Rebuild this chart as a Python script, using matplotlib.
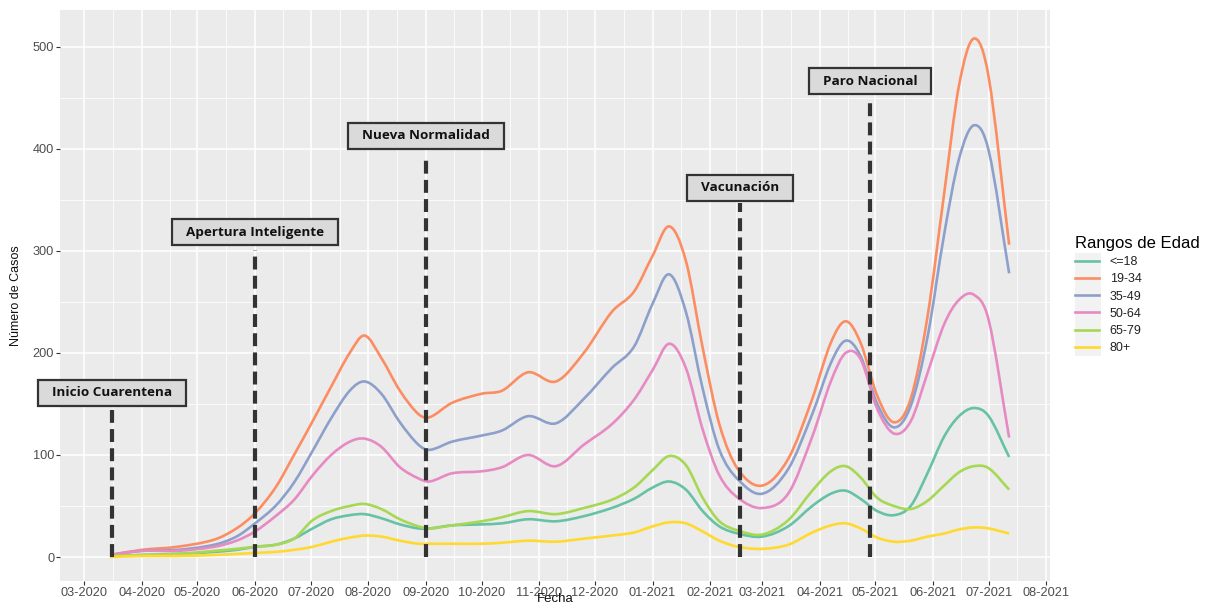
import matplotlib
matplotlib.use("Agg")
import matplotlib.pyplot as plt
import matplotlib.dates as mdates
import matplotlib.transforms as mtransforms
from matplotlib.path import Path
from matplotlib.patches import PathPatch, Rectangle
import pandas as pd
import numpy as np

# ---------------- data ----------------
dates = pd.to_datetime([
    "2020-03-15", "2020-04-01", "2020-04-20", "2020-05-10", "2020-05-22",
    "2020-06-01", "2020-06-12", "2020-06-22", "2020-07-02", "2020-07-12",
    "2020-07-22", "2020-07-30", "2020-08-08", "2020-08-18", "2020-08-28",
    "2020-09-03", "2020-09-15", "2020-10-01", "2020-10-12", "2020-10-26",
    "2020-11-10", "2020-11-25", "2020-12-10", "2020-12-22", "2021-01-01",
    "2021-01-10", "2021-01-19", "2021-01-28", "2021-02-06", "2021-02-16",
    "2021-03-01", "2021-03-15", "2021-03-28", "2021-04-07", "2021-04-15",
    "2021-04-23", "2021-05-02", "2021-05-11", "2021-05-20", "2021-05-29",
    "2021-06-07", "2021-06-15", "2021-06-23", "2021-07-01", "2021-07-12",
])

age_groups = ["<=18", "19-34", "35-49", "50-64", "65-79", "80+"]

cases_le18 = [1, 2, 3, 5, 7, 10, 12, 18, 28, 37, 41, 42, 38, 32, 28,
              28, 31, 32, 33, 37, 35, 40, 48, 57, 68, 74, 66, 45, 30, 23,
              20, 30, 50, 62, 65, 57, 45, 41, 50, 82, 118, 138, 146, 138, 98]
cases_19_34 = [2, 7, 10, 17, 28, 43, 68, 100, 133, 167, 200, 217, 195, 163, 140,
               137, 151, 160, 163, 181, 172, 200, 240, 260, 295, 324, 290, 205, 130, 86,
               70, 96, 155, 210, 231, 210, 158, 132, 155, 235, 356, 462, 508, 470, 306]
cases_35_49 = [2, 6, 7, 12, 20, 33, 50, 73, 104, 136, 163, 172, 160, 132, 110,
               105, 113, 119, 124, 138, 131, 155, 185, 206, 248, 277, 240, 165, 105, 76,
               62, 86, 140, 190, 212, 197, 150, 127, 148, 215, 316, 390, 423, 398, 278]
cases_50_64 = [2, 6, 6, 10, 16, 25, 40, 56, 80, 100, 113, 116, 108, 88, 77,
               74, 82, 84, 88, 100, 89, 110, 130, 154, 183, 209, 185, 125, 80, 58,
               48, 62, 118, 172, 200, 194, 145, 121, 133, 180, 228, 252, 257, 232, 117]
cases_65_79 = [1, 2, 3, 6, 8, 10, 12, 18, 36, 45, 50, 52, 47, 37, 30,
               28, 31, 35, 39, 45, 42, 48, 56, 68, 85, 99, 90, 58, 35, 26,
               22, 36, 65, 84, 89, 78, 58, 50, 47, 55, 70, 83, 89, 87, 66]
cases_80p = [0, 1, 1, 2, 3, 4, 5, 7, 10, 15, 19, 21, 20, 16, 13,
             13, 13, 13, 14, 16, 15, 18, 21, 24, 30, 34, 33, 25, 16, 10,
             8, 12, 24, 31, 33, 28, 19, 15, 16, 20, 23, 27, 29, 28, 23]

event_dates = pd.to_datetime(["2020-03-16", "2020-06-01", "2020-09-01",
                              "2021-02-17", "2021-04-28"])
event_labels = ["Inicio Cuarentena", "Apertura Inteligente", "Nueva Normalidad",
                "Vacunación", "Paro Nacional"]
event_label_y = [161, 318, 413, 362, 466]
event_line_top = [144, 301, 394, 347, 450]

x_tick_dates = pd.date_range("2020-03-01", "2021-08-01", freq="MS")

# ---------------- style ----------------
colors = ["#66C2A5", "#FC8D62", "#8DA0CB", "#E78AC3", "#A6D854", "#FFD92F"]
series = [cases_le18, cases_19_34, cases_35_49, cases_50_64, cases_65_79, cases_80p]

plt.rcParams["font.family"] = ["Liberation Sans", "DejaVu Sans"]

fig = plt.figure(figsize=(12.09, 6.05), dpi=100)
W, H = 1209, 605
ax = fig.add_axes([60 / W, 1 - 581 / H, (1050 - 60) / W, (581 - 10) / H])
ax.set_facecolor("#EBEBEB")
for s in ax.spines.values():
    s.set_visible(False)

# grid
ax.set_xticks(x_tick_dates)
mids = x_tick_dates[:-1] + (x_tick_dates[1:] - x_tick_dates[:-1]) / 2
ax.set_xticks(mids, minor=True)
ax.set_yticks(np.arange(0, 501, 100))
ax.set_yticks(np.arange(50, 501, 100), minor=True)
ax.grid(which="major", color="white", linewidth=1.1)
ax.grid(which="minor", color="white", linewidth=0.55)
ax.set_axisbelow(True)

ax.xaxis.set_major_formatter(mdates.DateFormatter("%m-%Y"))
ax.tick_params(which="major", length=3, width=0.8, color="#333333",
               labelcolor="#4D4D4D", labelsize=9.2, pad=1.2)
ax.tick_params(which="minor", length=0)


def smooth_path(xs, ys):
    """Cubic Hermite curve through the given points (drawn as Bezier path)."""
    xs = np.asarray(xs, float)
    ys = np.asarray(ys, float)
    n = len(xs)
    m = np.zeros(n)
    m[1:-1] = (ys[2:] - ys[:-2]) / (xs[2:] - xs[:-2])
    m[0] = (ys[1] - ys[0]) / (xs[1] - xs[0])
    m[-1] = (ys[-1] - ys[-2]) / (xs[-1] - xs[-2])
    verts = [(xs[0], ys[0])]
    codes = [Path.MOVETO]
    for i in range(n - 1):
        h = xs[i + 1] - xs[i]
        verts += [(xs[i] + h / 3, ys[i] + m[i] * h / 3),
                  (xs[i + 1] - h / 3, ys[i + 1] - m[i + 1] * h / 3),
                  (xs[i + 1], ys[i + 1])]
        codes += [Path.CURVE4] * 3
    return Path(verts, codes)


xnum = mdates.date2num(dates)
for vals, c, lab in zip(series, colors, age_groups):
    patch = PathPatch(smooth_path(xnum, vals), facecolor="none", edgecolor=c,
                      linewidth=1.9, zorder=3, capstyle="butt", joinstyle="round")
    ax.add_patch(patch)
    ax.plot([], [], color=c, linewidth=1.9, label=lab)

# event lines + labels
texts = []
for d, lab, ly, lt in zip(event_dates, event_labels, event_label_y, event_line_top):
    ln, = ax.plot([d, d], [0, lt], color="#333333", linewidth=3, zorder=4,
                  solid_capstyle="butt")
    ln.set_dashes((3.1, 1.5))
    ln.set_dash_capstyle("butt")
    t = ax.text(d, ly, lab, ha="center", va="center", fontsize=9.7,
                fontweight="bold", family=["Open Sans", "DejaVu Sans"],
                color="#111111", zorder=7)
    texts.append(t)

ax.set_xlim(pd.Timestamp("2020-02-17"), pd.Timestamp("2021-08-03"))
ax.set_ylim(-23.5, 536)

# boxes around event labels (padding in pixels)
renderer = fig.canvas.get_renderer()
for t in texts:
    bb = t.get_window_extent(renderer)
    cx, cy = (bb.x0 + bb.x1) / 2, (bb.y0 + bb.y1) / 2
    bw, bh = bb.width + 28, 26
    rect = Rectangle((cx - bw / 2, cy - bh / 2), bw, bh,
                     transform=mtransforms.IdentityTransform(),
                     facecolor="#DADADA", edgecolor="#333333", linewidth=1.6,
                     zorder=5, clip_on=False)
    ax.add_artist(rect)

# axis labels
fig.text(16 / W, 1 - 296 / H, "Número de Casos", rotation=90, ha="center",
         va="center", fontsize=9, color="#111111")
fig.text(555 / W, 0.0, "Fecha", ha="center", va="bottom",
         fontsize=9.5, color="#111111")

# legend
fig.patches.append(Rectangle((1075 / W, 1 - 356 / H), 26 / W, 103 / H,
                             transform=fig.transFigure, facecolor="#F2F2F2",
                             edgecolor="none", zorder=0))
leg = fig.legend(loc="upper left", bbox_to_anchor=(1066 / W, 1 - 227 / H),
                 frameon=False, fontsize=9, title="Rangos de Edad",
                 title_fontsize=12, handlelength=1.95, handletextpad=0.85,
                 labelspacing=0.42, alignment="left", borderpad=0.2)
for t in leg.get_texts():
    t.set_color("#222222")

fig.savefig("out.png", dpi=100)
